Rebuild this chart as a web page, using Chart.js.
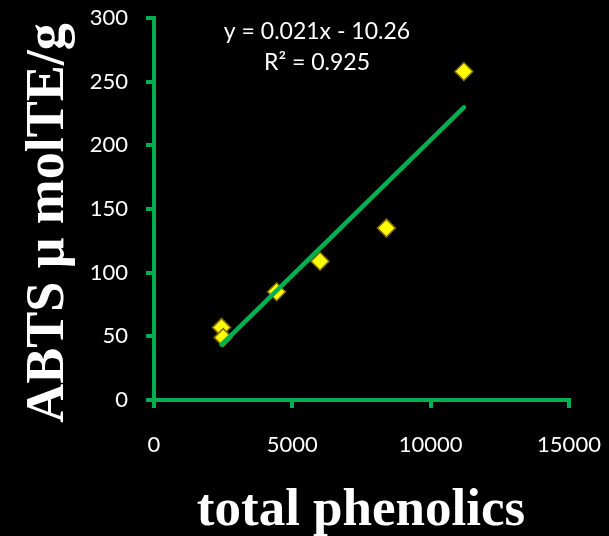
<!DOCTYPE html>
<html>
<head>
<meta charset="utf-8">
<script src="https://cdn.jsdelivr.net/npm/chart.js@4.4.0/dist/chart.umd.min.js"></script>
<style>
body{margin:0;background:#000;}
canvas{display:block;}
</style>
</head>
<body>
<canvas id="grafico" width="609" height="536"></canvas>
<script>
const fenolicos = [2440, 2500, 4430, 6000, 8400, 11200];
const abts = [57, 49, 85, 109, 135, 258];
const ticksX = [0, 5000, 10000, 15000];
const ticksY = [0, 50, 100, 150, 200, 250, 300];
const ecuacion = ["y = 0.021x - 10.26", "R² = 0.925"];
const tituloX = "total phenolics";
const tituloY = "ABTS μ molTE/g";

const verde = "#00B050";

// recta de minimos cuadrados entre el menor y el mayor x
function tendencia(xs, ys){
const n = xs.length;
const mx = xs.reduce((a,b)=>a+b,0)/n;
const my = ys.reduce((a,b)=>a+b,0)/n;
let sxy = 0, sxx = 0;
for(let i=0;i<n;i++){
sxy += (xs[i]-mx)*(ys[i]-my);
sxx += (xs[i]-mx)*(xs[i]-mx);
}
const m = sxy/sxx;
const b = my - m*mx;
const x0 = Math.min(...xs);
const x1 = Math.max(...xs);
return [{x:x0, y:m*x0+b}, {x:x1, y:m*x1+b}];
}

const puntos = fenolicos.map((x,i) => ({x:x, y:abts[i]}));

const textos = {
id:"textos",
beforeDraw(chart){
const ctx = chart.ctx;
ctx.save();
ctx.fillStyle = "#000";
ctx.fillRect(0,0,chart.width,chart.height);
ctx.restore();
},
afterDraw(chart){
const ctx = chart.ctx;
const area = chart.chartArea;
ctx.save();
ctx.fillStyle = "#fff";
ctx.textAlign = "center";
ctx.textBaseline = "middle";
ctx.font = "23px Lato";
ctx.fillText(ecuacion[0], 317, 32);
ctx.fillText(ecuacion[1], 317, 63);

ctx.textBaseline = "alphabetic";
ctx.font = "bold 53px 'Liberation Serif'";
ctx.fillText(tituloX, 361, 525);

ctx.font = "bold 54px 'Liberation Serif'";
ctx.translate(63, 223);
ctx.rotate(-Math.PI/2);
ctx.fillText(tituloY, 0, 0);
ctx.restore();
}
};

const ctx = document.getElementById("grafico");

new Chart(ctx, {
type:"scatter",
data:{
datasets:[{
type:"line",
data:tendencia(fenolicos, abts),
borderColor:verde,
borderWidth:4.5,
borderCapStyle:"round",
pointRadius:0,
order:0
},{
data:puntos,
pointStyle:"rectRot",
pointRadius:9,
pointBackgroundColor:"#FFFF00",
pointBorderColor:"#7F6A00",
pointBorderWidth:1.5,
order:1
}]
},
options:{
responsive:false,
animation:false,
layout:{padding:{left:0, right:40, top:18, bottom:0}},
plugins:{legend:{display:false}, tooltip:{enabled:false}},
scales:{
x:{
type:"linear",
min:0,
max:15000,
afterBuildTicks: s => { s.ticks = ticksX.map(v => ({value:v})); },
afterFit: s => { s.height = 136; s.paddingLeft = 0; s.paddingRight = 0; },
border:{color:verde, width:4},
grid:{drawOnChartArea:false, drawTicks:true, tickLength:8, color:verde, lineWidth:4},
ticks:{color:"#fff", font:{family:"Lato", size:22}, padding:24, maxRotation:0, callback: v => String(v)}
},
y:{
type:"linear",
min:0,
max:300,
afterBuildTicks: s => { s.ticks = ticksY.map(v => ({value:v})); },
afterFit: s => { s.width = 154; s.paddingTop = 0; s.paddingBottom = 0; },
border:{color:verde, width:4},
grid:{drawOnChartArea:false, drawTicks:true, tickLength:8, color:verde, lineWidth:4},
ticks:{color:"#fff", font:{family:"Lato", size:22}, padding:18, callback: v => String(v)}
}
}
},
plugins:[textos]
});
</script>
</body>
</html>
